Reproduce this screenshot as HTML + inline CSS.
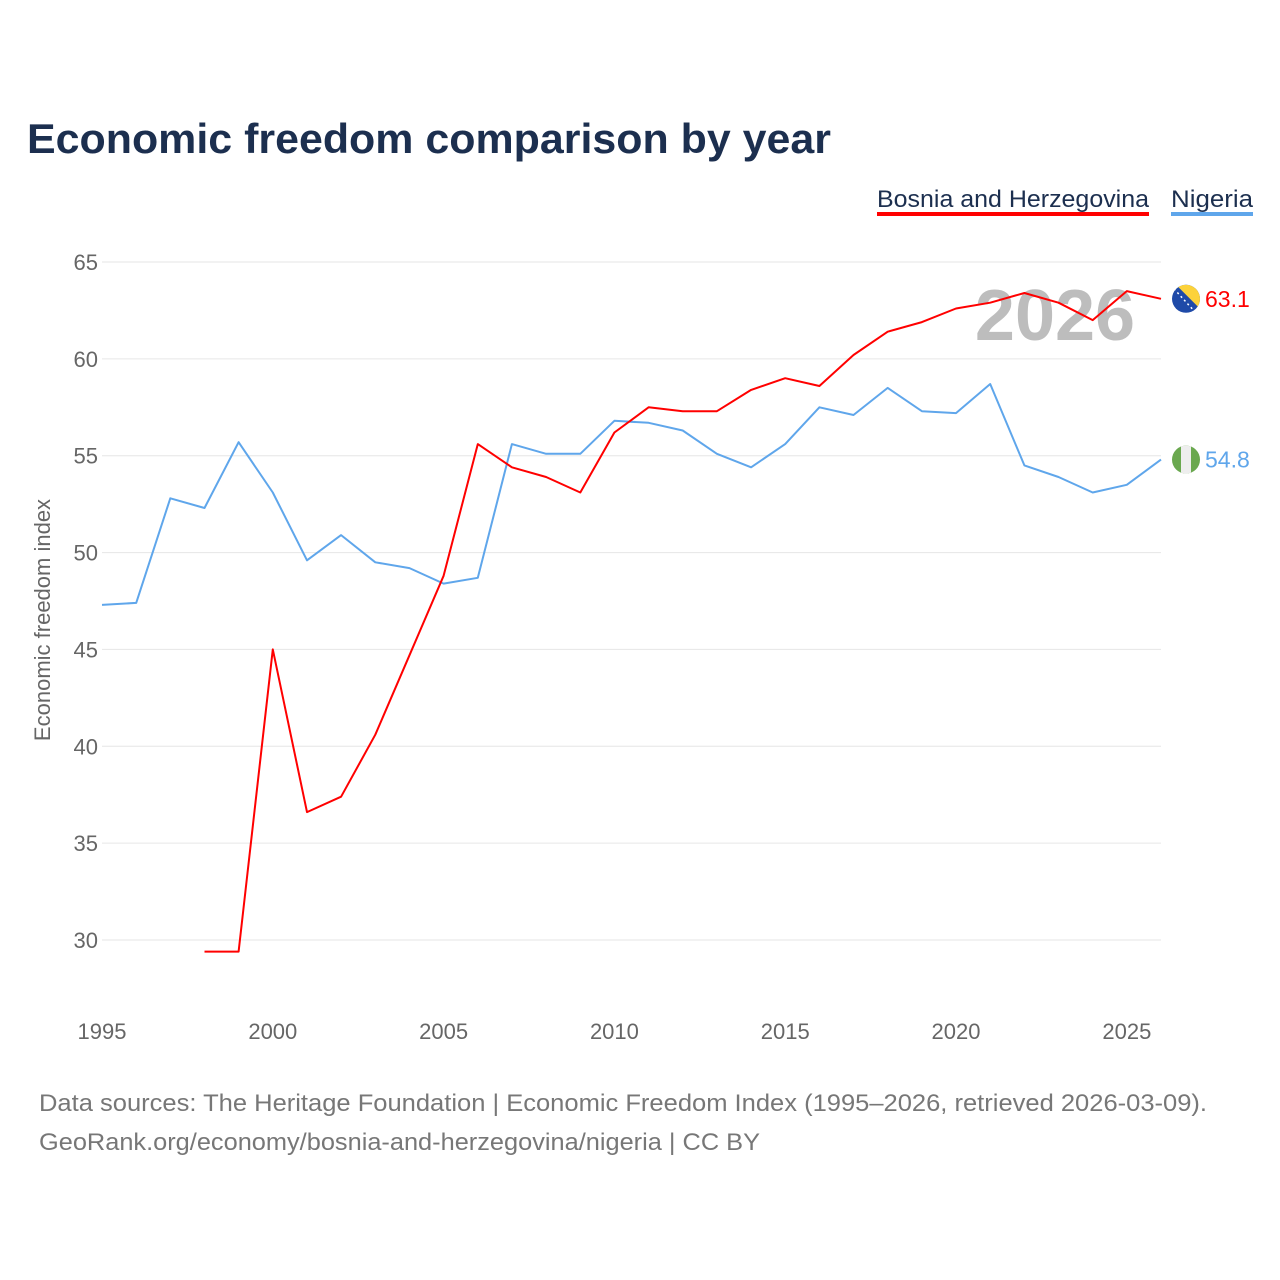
<!DOCTYPE html>
<html><head><meta charset="utf-8">
<style>
html,body{margin:0;padding:0;background:#fff;}
svg{display:block;font-family:"Liberation Sans",sans-serif;}
</style></head>
<body>
<svg id="chart" width="1280" height="1280" viewBox="0 0 1280 1280">
<text x="27" y="153" font-size="42" font-weight="bold" fill="#1c2f4f" textLength="804" lengthAdjust="spacingAndGlyphs">Economic freedom comparison by year</text>
<g>
<g>
<text x="877" y="207" font-size="24" fill="#1c2f4f" textLength="272" lengthAdjust="spacingAndGlyphs">Bosnia and Herzegovina</text>
<rect x="877" y="212" width="272" height="4" fill="#ff0000"/>
</g>
<g>
<text x="1171" y="207" font-size="24" fill="#1c2f4f" textLength="82" lengthAdjust="spacingAndGlyphs">Nigeria</text>
<rect x="1171" y="212" width="82" height="4" fill="#5fa6eb"/>
</g>
</g>
<g id="grid"></g>
<g id="yticks"></g>
<g id="xticks"></g>
<text x="1055" y="340" font-size="72" font-weight="bold" fill="#bdbdbd" text-anchor="middle">2026</text>
<text transform="translate(50,620) rotate(-90)" font-size="22" fill="#666" text-anchor="middle">Economic freedom index</text>
<g id="series"></g>
<g>
<text x="39" y="1111" font-size="24" fill="#777" textLength="1168" lengthAdjust="spacingAndGlyphs">Data sources: The Heritage Foundation | Economic Freedom Index (1995–2026, retrieved 2026-03-09).</text>
<text x="39" y="1150" font-size="24" fill="#777" textLength="721" lengthAdjust="spacingAndGlyphs">GeoRank.org/economy/bosnia-and-herzegovina/nigeria | CC BY</text>
</g>
</svg>
<script>
const years = [1995,1996,1997,1998,1999,2000,2001,2002,2003,2004,2005,2006,2007,2008,2009,2010,2011,2012,2013,2014,2015,2016,2017,2018,2019,2020,2021,2022,2023,2024,2025,2026];
const nigeria = [47.3,47.4,52.8,52.3,55.7,53.1,49.6,50.9,49.5,49.2,48.4,48.7,55.6,55.1,55.1,56.8,56.7,56.3,55.1,54.4,55.6,57.5,57.1,58.5,57.3,57.2,58.7,54.5,53.9,53.1,53.5,54.8];
const bosnia = [null,null,null,29.4,29.4,45.0,36.6,37.4,40.6,44.7,48.8,55.6,54.4,53.9,53.1,56.2,57.5,57.3,57.3,58.4,59.0,58.6,60.2,61.4,61.9,62.6,62.9,63.4,62.9,62.0,63.5,63.1];
const yTicks = [30,35,40,45,50,55,60,65];
const xTicks = [1995,2000,2005,2010,2015,2020,2025];

const NS="http://www.w3.org/2000/svg";
function X(y){return 102+(y-1995)*(1161-102)/31;}
function Y(v){return 940-(v-30)*(940-262)/35;}
function mk(tag,attrs,parent){const e=document.createElementNS(NS,tag);for(const k in attrs)e.setAttribute(k,attrs[k]);parent.appendChild(e);return e;}
const grid=document.getElementById('grid'),yt=document.getElementById('yticks'),xt=document.getElementById('xticks'),ser=document.getElementById('series');
yTicks.forEach(t=>{
 const l=mk('line',{x1:102,x2:1161,y1:Y(t),y2:Y(t),stroke:'#e6e6e6','stroke-width':1},grid);
 
 
 const tx=mk('text',{x:98,y:Y(t)+8,'font-size':22,fill:'#666','text-anchor':'end'},yt);
 tx.textContent=t;
 
 
});
xTicks.forEach(t=>{
 const tx=mk('text',{x:X(t),y:1039,'font-size':22,fill:'#666','text-anchor':'middle'},xt);
 tx.textContent=t;
 
 
});
function line(vals,color,name){
 let d='';
 vals.forEach((v,i)=>{if(v==null)return;d+=(d?'L':'M')+X(years[i]).toFixed(1)+','+Y(v).toFixed(1);});
 const p=mk('path',{d:d,fill:'none',stroke:color,'stroke-width':2,'stroke-linejoin':'round'},ser);
 
 
}
line(nigeria,'#5fa6eb','nigeria-line');
line(bosnia,'#ff0000','bosnia-line');
// end markers
const lastB=bosnia[bosnia.length-1],lastN=nigeria[nigeria.length-1];
const fb=mk('g',{},ser);


const cyB=Y(lastB);
mk('defs',{},fb).innerHTML='<clipPath id="cb"><circle cx="1186" cy="'+cyB+'" r="14"/></clipPath><clipPath id="cn"><circle cx="1186" cy="'+Y(lastN)+'" r="14"/></clipPath>';
mk('circle',{cx:1186,cy:cyB,r:14,fill:'#1f4aa8'},fb);
mk('polygon',{points:(1176)+','+(cyB-14)+' 1200,'+(cyB-14)+' 1200,'+(cyB+10),fill:'#fcd23a','clip-path':'url(#cb)'},fb);
mk('line',{x1:1174,y1:cyB-10,x2:1194,y2:cyB+12,stroke:'#fff','stroke-width':1.5,'stroke-dasharray':'2 3','clip-path':'url(#cb)'},fb);
const fn=mk('g',{},ser);


const cyN=Y(lastN);
mk('circle',{cx:1186,cy:cyN,r:14,fill:'#6aa84f'},fn);
mk('rect',{x:1181,y:cyN-14,width:10,height:28,fill:'#eee','clip-path':'url(#cn)'},fn);
const lb=mk('text',{x:1205,y:cyB+8,'font-size':23,fill:'#ff0000'},ser);
lb.textContent=lastB.toFixed(1);


const ln=mk('text',{x:1205,y:cyN+8,'font-size':23,fill:'#5fa6eb'},ser);
ln.textContent=lastN.toFixed(1);


</script>
</body></html>
